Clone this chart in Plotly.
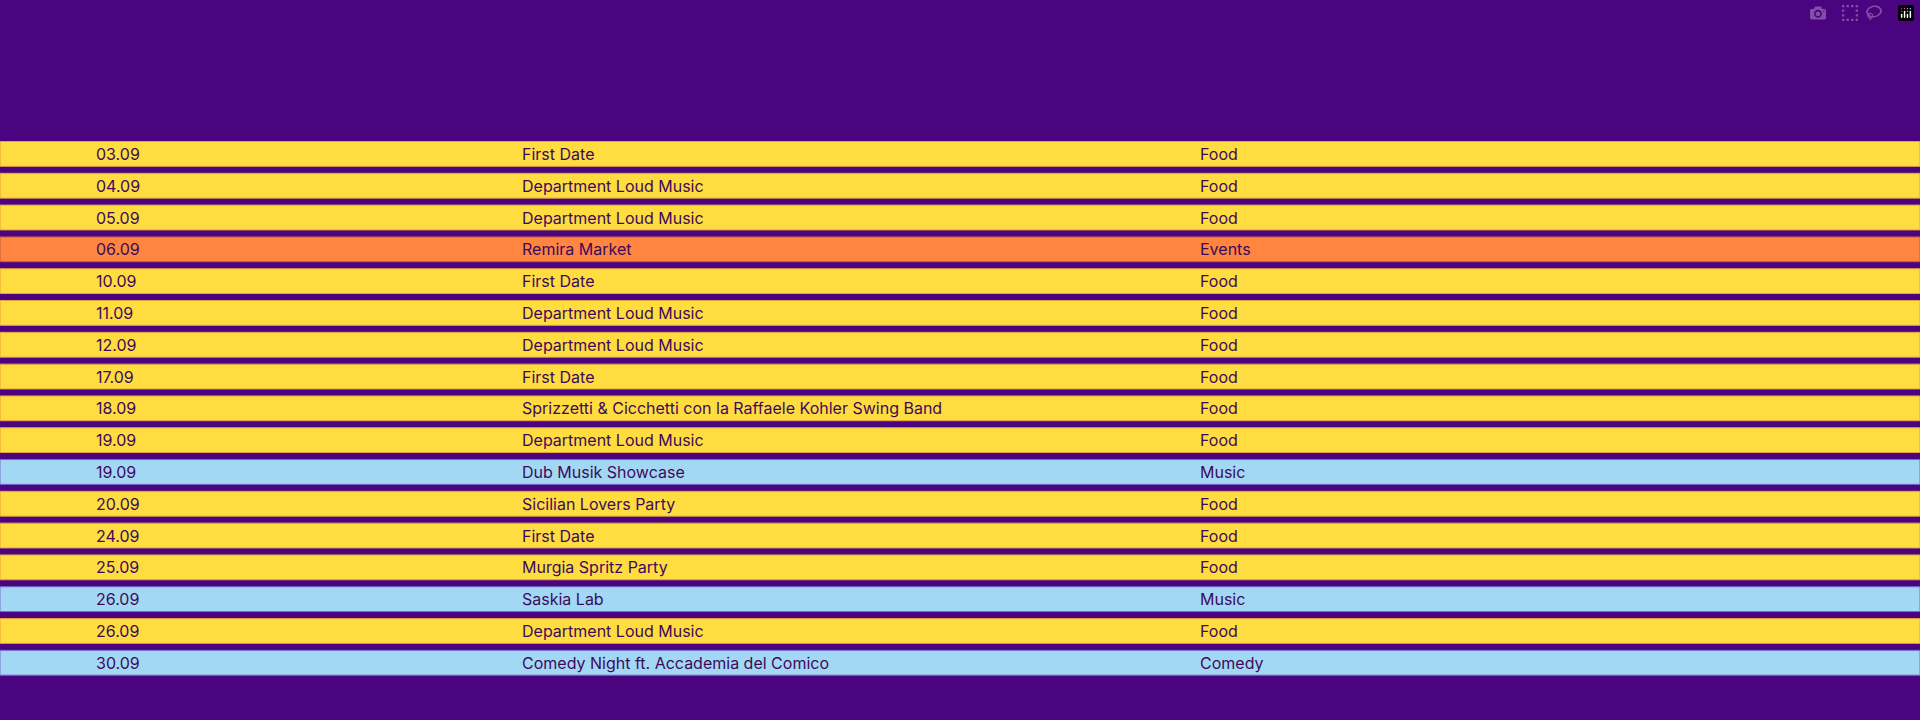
import plotly.graph_objects as go

dates = ["03.09", "04.09", "05.09", "06.09", "10.09", "11.09", "12.09", "17.09", "18.09",
         "19.09", "19.09", "20.09", "24.09", "25.09", "26.09", "26.09", "30.09"]
titles = ["First Date", "Department Loud Music", "Department Loud Music", "Remira Market",
          "First Date", "Department Loud Music", "Department Loud Music", "First Date",
          "Sprizzetti & Cicchetti con la Raffaele Kohler Swing Band", "Department Loud Music",
          "Dub Musik Showcase", "Sicilian Lovers Party", "First Date", "Murgia Spritz Party",
          "Saskia Lab", "Department Loud Music", "Comedy Night ft. Accademia del Comico"]
categories = ["Food", "Food", "Food", "Events", "Food", "Food", "Food", "Food", "Food",
              "Food", "Music", "Food", "Food", "Food", "Music", "Food", "Comedy"]

fill = {"Food": "#ffdd40", "Events": "#ff8540", "Music": "#a3d8f5", "Comedy": "#a3d8f5"}
edge = {"Food": "#e8a040", "Events": "#c05a40", "Music": "#7a6ad0", "Comedy": "#7a6ad0"}
bg = "#4a0480"
ink = "#3d0a5a"

rows = list(range(len(dates)))

fig = go.Figure()
fig.add_trace(go.Bar(
    y=rows, x=[1] * len(rows), orientation="h",
    marker=dict(color=[fill[c] for c in categories],
                line=dict(color=[edge[c] for c in categories], width=1)),
    hoverinfo="skip",
))

for i in rows:
    for xpos, txt in [(0.049, dates[i]), (0.271, titles[i]), (0.624, categories[i])]:
        fig.add_annotation(x=xpos, y=i, text=txt, showarrow=False, xanchor="left",
                           font=dict(family="Inter", size=16, color=ink))

fig.update_layout(
    width=1920, height=720,
    margin=dict(l=0, r=0, t=0, b=0),
    paper_bgcolor=bg, plot_bgcolor=bg,
    bargap=0.22, showlegend=False,
    xaxis=dict(range=[0, 1], visible=False, fixedrange=True),
    yaxis=dict(range=[17.8, -4.84], visible=False, fixedrange=True),
)

fig.write_html("out.html", post_script="document.body.style.margin='0';document.body.style.background='" + bg + "';")
